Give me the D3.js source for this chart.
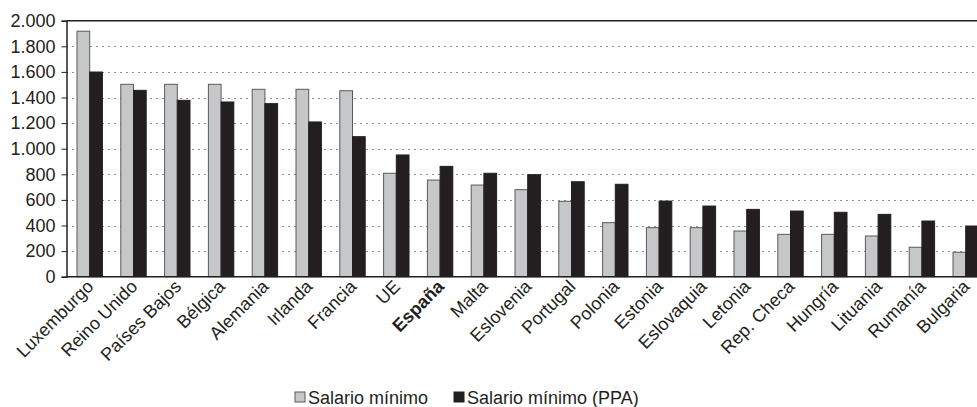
<!DOCTYPE html>
<html>
<head>
<meta charset="utf-8">
<script src="https://cdn.jsdelivr.net/npm/d3@7"></script>
<style>
  body { margin: 0; background: #fff; }
  svg { display: block; }
  text { font-family: "Liberation Sans", Arial, sans-serif; fill: #231f20; }
</style>
</head>
<body>
<div id="chart"></div>
<script>
// chart data

var paises = ["Luxemburgo", "Reino Unido", "Países Bajos", "Bélgica", "Alemania", "Irlanda", "Francia",
  "UE", "España", "Malta", "Eslovenia", "Portugal", "Polonia", "Estonia", "Eslovaquia",
  "Letonia", "Rep. Checa", "Hungría", "Lituania", "Rumanía", "Bulgaria"];

var salarioMinimo = [1918, 1503, 1503, 1503, 1464, 1464, 1453,
  808, 755, 716, 680, 589, 422, 383, 383,
  357, 331, 331, 318, 230, 191];

var salarioMinimoPPA = [1599, 1456, 1378, 1365, 1352, 1209, 1094,
  951, 862, 808, 797, 742, 722, 591, 552,
  526, 513, 503, 487, 435, 396];

var series = ["Salario mínimo", "Salario mínimo (PPA)"];
var yTicks = [0, 200, 400, 600, 800, 1000, 1200, 1400, 1600, 1800, 2000];

// svg parameters
var svgWidth = 977;
var svgHeight = 407;
var plot = {"left": 66.5, "top": 20.7, "bottom": 276.7, "right": 977};
var colors = {"fill": ["#c6c7c9", "#231f20"], "stroke": ["#5a5a5a", "#231f20"]};

var svg = d3.select("#chart").append("svg")
  .attr("width", svgWidth)
  .attr("height", svgHeight);

var data = paises.map(function(p, i) {
  return {"pais": p, "values": [salarioMinimo[i], salarioMinimoPPA[i]]};
});

var yScale = d3.scaleLinear().domain([0, 2000]).range([plot.bottom, plot.top]);
var x0 = d3.scaleBand().domain(paises).range([67.8, 987.6]).paddingInner(0.42).paddingOuter(0.21);
var x1 = d3.scaleBand().domain([0, 1]).range([0, x0.bandwidth()]);

// dotted grid lines
svg.append("g").attr("class", "grid")
  .selectAll("line")
  .data(yTicks.filter(function(t) { return t > 0 && t < 2000; }))
  .enter()
  .append("line")
  .attr("x1", plot.left)
  .attr("x2", plot.right)
  .attr("y1", function(d) { return Math.round(yScale(d)) + 0.5; })
  .attr("y2", function(d) { return Math.round(yScale(d)) + 0.5; })
  .attr("stroke", "#231f20")
  .attr("stroke-width", 1)
  .attr("stroke-dasharray", "1,5");

// top border
svg.append("line")
  .attr("x1", plot.left).attr("x2", plot.right)
  .attr("y1", yScale(2000)).attr("y2", yScale(2000))
  .attr("stroke", "#231f20").attr("stroke-width", 1.5);

// bars
var groups = svg.append("g").attr("class", "bars")
  .selectAll("g")
  .data(data)
  .enter()
  .append("g")
  .attr("transform", function(d) { return "translate(" + x0(d.pais) + ",0)"; });

groups.selectAll("rect")
  .data(function(d) { return d.values.map(function(v, k) { return {"k": k, "v": v}; }); })
  .enter()
  .append("rect")
  .attr("x", function(d) { return x1(d.k); })
  .attr("y", function(d) { return yScale(d.v); })
  .attr("width", x1.bandwidth())
  .attr("height", function(d) { return yScale(0) - yScale(d.v); })
  .attr("fill", function(d) { return colors.fill[d.k]; })
  .attr("stroke", function(d) { return colors.stroke[d.k]; })
  .attr("stroke-width", 1);

// y axis
var yAxis = d3.axisLeft(yScale).tickValues(yTicks).tickSize(5).tickPadding(6)
  .tickFormat(function(d) { return d3.format(",")(d).replace(",", "."); });
var gy = svg.append("g")
  .attr("class", "yAxis")
  .attr("transform", "translate(" + plot.left + ",0)")
  .call(yAxis)
  .attr("font-size", 18)
  .attr("font-family", "Liberation Sans, Arial, sans-serif");
gy.select(".domain").attr("stroke", "#231f20").attr("stroke-width", 1.5);
gy.selectAll(".tick line").attr("stroke", "#231f20");
gy.selectAll(".tick text").attr("fill", "#231f20");

// x axis line at 0
svg.append("line")
  .attr("x1", plot.left).attr("x2", plot.right)
  .attr("y1", yScale(0)).attr("y2", yScale(0))
  .attr("stroke", "#231f20").attr("stroke-width", 1.5);

// category labels, rotated
svg.append("g").attr("class", "xLabels")
  .selectAll("text")
  .data(paises)
  .enter()
  .append("text")
  .attr("transform", function(d) {
    var cx = x0(d) + x0.bandwidth() / 2 + 5;
    return "translate(" + cx + "," + (plot.bottom + 11) + ") rotate(-45)";
  })
  .attr("text-anchor", "end")
  .attr("font-size", "18px")
  .attr("font-weight", function(d) { return d === "España" ? "bold" : "normal"; })
  .text(function(d) { return d; });

// legend
var legendX = [295, 454];
var legend = svg.append("g").attr("class", "legend")
  .selectAll("g")
  .data(series)
  .enter()
  .append("g")
  .attr("transform", function(d, i) { return "translate(" + legendX[i] + ",392)"; });

legend.append("rect")
  .attr("width", 10).attr("height", 10)
  .attr("fill", function(d, i) { return colors.fill[i]; })
  .attr("stroke", function(d, i) { return colors.stroke[i]; })
  .attr("stroke-width", 1);

legend.append("text")
  .attr("x", 13)
  .attr("y", 11.5)
  .attr("font-size", "18px")
  .text(function(d) { return d; });
</script>
</body>
</html>
